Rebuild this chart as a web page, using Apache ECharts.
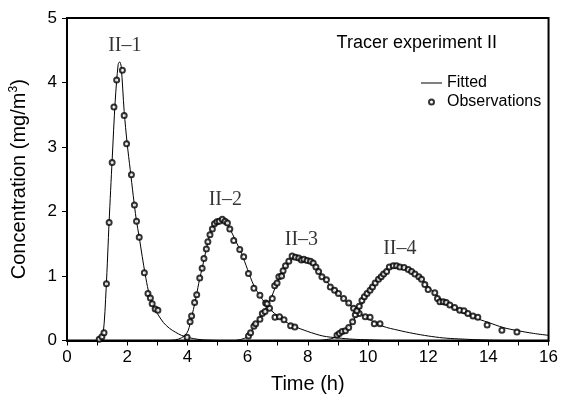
<!DOCTYPE html>
<html><head><meta charset="utf-8">
<script src="https://cdn.jsdelivr.net/npm/echarts@6/dist/echarts.min.js"></script>
<style>html,body{margin:0;padding:0;background:#fff}#c{width:561px;height:402px}</style>
</head><body><div id="c"></div>
<script>
// Fitted curves [time h, concentration mg/m3]
var fit1 = [[1.0,0],[1.1,0.03],[1.2,0.1],[1.3,0.8],[1.4,1.85],[1.5,2.8],[1.6,3.7],[1.7,4.28],[1.75,4.32],[1.8,4.25],[1.9,3.55],[2.0,3.05],[2.1,2.65],[2.2,2.25],[2.3,1.88],[2.4,1.6],[2.5,1.3],[2.6,1.02],[2.7,0.78],[2.8,0.62],[2.9,0.5],[3.0,0.42],[3.2,0.28],[3.4,0.19],[3.6,0.13],[3.8,0.08],[4.0,0.05],[4.2,0.03],[4.5,0.01],[5.0,0]];
var fit2 = [[3.4,0],[3.6,0.01],[3.8,0.04],[4.0,0.13],[4.1,0.28],[4.2,0.48],[4.3,0.70],[4.4,0.94],[4.5,1.14],[4.6,1.36],[4.7,1.56],[4.8,1.71],[4.9,1.80],[5.0,1.85],[5.1,1.87],[5.2,1.86],[5.3,1.82],[5.4,1.74],[5.5,1.65],[5.6,1.55],[5.8,1.35],[6.0,1.1],[6.2,0.86],[6.4,0.70],[6.6,0.57],[6.8,0.46],[7.0,0.38],[7.2,0.31],[7.5,0.23],[8.0,0.14],[8.5,0.07],[9.0,0.04],[9.5,0.02],[10.0,0.01],[10.5,0]];
var fit3 = [[5.6,0],[5.8,0.02],[6.0,0.06],[6.2,0.2],[6.4,0.35],[6.6,0.5],[6.8,0.68],[7.0,0.92],[7.2,1.1],[7.4,1.22],[7.6,1.28],[7.8,1.28],[8.0,1.25],[8.2,1.17],[8.4,1.05],[8.6,0.93],[8.8,0.82],[9.0,0.72],[9.2,0.64],[9.4,0.55],[9.6,0.47],[9.8,0.40],[10.0,0.34],[10.5,0.22],[11.0,0.16],[11.5,0.11],[12.0,0.07],[12.5,0.04],[13.0,0.025],[14.0,0.005],[14.5,0]];
var fit4 = [[8.4,0],[8.8,0.03],[9.0,0.07],[9.2,0.13],[9.4,0.23],[9.6,0.38],[9.8,0.56],[10.0,0.74],[10.2,0.88],[10.4,1.0],[10.6,1.09],[10.8,1.14],[11.0,1.15],[11.2,1.13],[11.4,1.09],[11.6,1.02],[11.8,0.94],[12.0,0.84],[12.2,0.74],[12.4,0.65],[12.6,0.57],[12.8,0.51],[13.0,0.46],[13.5,0.36],[14.0,0.28],[14.5,0.2],[15.0,0.15],[15.5,0.11],[16.0,0.08]];
// Observations
var obs1 = [[1.07,0.02],[1.16,0.06],[1.23,0.12],[1.31,0.88],[1.40,1.83],[1.50,2.76],[1.56,3.62],[1.65,4.04],[1.84,4.19],[1.90,3.49],[1.98,3.05],[2.14,2.57],[2.24,2.10],[2.31,1.85],[2.40,1.60],[2.57,1.05],[2.69,0.73],[2.77,0.66],[2.83,0.57],[2.93,0.49],[3.02,0.47]];
var obs2 = [[3.99,0.05],[4.09,0.29],[4.14,0.38],[4.24,0.59],[4.31,0.71],[4.41,0.97],[4.49,1.12],[4.55,1.27],[4.63,1.42],[4.68,1.53],[4.75,1.64],[4.83,1.73],[4.90,1.81],[4.98,1.84],[5.06,1.85],[5.16,1.88],[5.25,1.85],[5.33,1.82],[5.41,1.73],[5.54,1.55],[5.74,1.41],[5.87,1.30],[6.03,1.04],[6.21,0.81],[6.41,0.70],[6.60,0.58],[6.73,0.50],[6.91,0.36],[7.06,0.37],[7.21,0.32],[7.43,0.23],[7.57,0.21]];
var obs3 = [[6.03,0.07],[6.10,0.12],[6.21,0.22],[6.27,0.26],[6.41,0.33],[6.49,0.42],[6.58,0.45],[6.65,0.57],[6.82,0.65],[6.90,0.85],[6.98,0.89],[7.04,0.99],[7.13,1.0],[7.18,1.08],[7.26,1.16],[7.37,1.23],[7.48,1.31],[7.59,1.29],[7.70,1.28],[7.79,1.25],[7.87,1.26],[7.98,1.24],[8.09,1.23],[8.18,1.20],[8.27,1.14],[8.36,1.07],[8.47,0.99],[8.62,0.94],[8.75,0.83],[8.89,0.78],[9.02,0.73],[9.19,0.65],[9.36,0.58],[9.52,0.50],[9.71,0.42],[9.91,0.37],[10.07,0.36],[10.21,0.26],[10.40,0.26]];
var obs4 = [[8.97,0.08],[9.05,0.11],[9.14,0.14],[9.25,0.15],[9.36,0.2],[9.49,0.29],[9.58,0.40],[9.63,0.46],[9.71,0.53],[9.80,0.62],[9.88,0.68],[9.97,0.73],[10.07,0.78],[10.15,0.83],[10.24,0.89],[10.35,0.95],[10.44,0.99],[10.52,1.03],[10.62,1.07],[10.71,1.14],[10.84,1.16],[10.95,1.16],[11.06,1.14],[11.2,1.13],[11.34,1.10],[11.45,1.07],[11.56,1.03],[11.69,0.99],[11.78,0.95],[11.89,0.87],[12.0,0.79],[12.22,0.74],[12.31,0.65],[12.39,0.60],[12.5,0.60],[12.6,0.59],[12.72,0.55],[12.88,0.51],[13.05,0.47],[13.19,0.46],[13.32,0.42],[13.49,0.38],[13.65,0.36],[13.96,0.24],[14.45,0.16],[14.95,0.13]];
// Peak annotations [x, y, text]
var peakLabels = [[1.92,4.57,'II–1'],[5.26,2.18,'II–2'],[7.79,1.56,'II–3'],[11.06,1.42,'II–4']];
var xTicks = [0,2,4,6,8,10,12,14,16];
var yTicks = [0,1,2,3,4,5];

var FONT = 'Liberation Sans, Arial, sans-serif';
var chart = echarts.init(document.getElementById('c'), null, {renderer:'canvas'});
var fits = [fit1,fit2,fit3,fit4], obss = [obs1,obs2,obs3,obs4];
var series = [];
fits.forEach(function(f){
  series.push({name:'Fitted', type:'line', data:f, symbol:'none', smooth:0.3, lineStyle:{color:'#000', width:1}, itemStyle:{color:'#000'}, z:2, animation:false});
});
obss.forEach(function(o){
  series.push({name:'Observations', type:'scatter', data:o, symbol:'emptyCircle', symbolSize:5, itemStyle:{color:'#000', borderColor:'#000', borderWidth:0.7}, z:3, animation:false});
});
series.push({type:'scatter', data:peakLabels.map(function(p){return {value:[p[0],p[1]], label:{formatter:p[2]}};}), symbolSize:0, silent:true,
  label:{show:true, position:'inside', color:'#000', fontFamily:'Liberation Serif, Times New Roman, serif', fontSize:20}, animation:false});

chart.setOption({
  animation:false,
  backgroundColor:'#fff',
  grid:{left:67, right:10, top:18, bottom:61.5, show:true, borderColor:'#000', borderWidth:2, containLabel:false},
  title:{text:'Tracer experiment II', right:64, top:34, padding:0, textStyle:{fontFamily:FONT, fontSize:18, fontWeight:'normal', color:'#000'}},
  legend:{data:[{name:'Fitted', icon:'path://M0,0h21v1h-21z', itemStyle:{color:'#000'}},{name:'Observations', icon:'emptyCircle'}], orient:'vertical', left:421, top:75, padding:0, itemWidth:21, itemHeight:5, itemGap:3,
    textStyle:{fontFamily:FONT, fontSize:16, color:'#000'}, selectedMode:false},
  xAxis:{type:'value', min:0, max:16, interval:1, name:'Time (h)', nameLocation:'middle', nameGap:34,
    nameTextStyle:{fontFamily:FONT, fontSize:20, color:'#000'},
    axisLine:{show:true, lineStyle:{color:'#000', width:2}}, axisTick:{show:true, inside:false, length:5, lineStyle:{color:'#000', width:1}},
    axisLabel:{fontFamily:FONT, fontSize:17, color:'#000', margin:8, formatter:function(v){return xTicks.indexOf(v)>=0 ? String(v) : '';}},
    splitLine:{show:false}},
  yAxis:{type:'value', min:0, max:5, interval:1, name:'Concentration (mg/m{sup|3})', nameLocation:'middle', nameGap:37,
    nameTextStyle:{fontFamily:FONT, fontSize:20, color:'#000', rich:{sup:{fontFamily:FONT, fontSize:12, verticalAlign:'bottom', padding:[0,0,10,0]}}},
    axisLine:{show:true, lineStyle:{color:'#000', width:2}}, axisTick:{show:true, inside:false, length:5, lineStyle:{color:'#000', width:1}},
    axisLabel:{fontFamily:FONT, fontSize:17, color:'#000', margin:10, formatter:function(v){return yTicks.indexOf(v)>=0 ? String(v) : '';}},
    splitLine:{show:false}},
  series:series
});
</script></body></html>
